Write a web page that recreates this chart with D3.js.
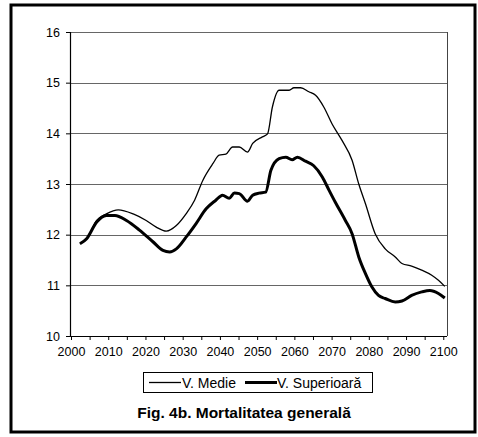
<!DOCTYPE html>
<html>
<head>
<meta charset="utf-8">
<script src="https://cdn.jsdelivr.net/npm/d3@7"></script>
<style>
  body { margin: 0; background: #fff; }
  svg { font-family: Arial, "Liberation Sans", sans-serif; }
</style>
</head>
<body>
<div id="chart"></div>
<script>
// V. Medie (thin line)
var yearsMedie = [2002.4, 2004.2, 2006.9, 2009.5, 2012.7, 2016.7, 2020.2, 2022.9, 2025.6, 2028.3,
    2030.9, 2033.2, 2035.4, 2038.1, 2039.8, 2041.6, 2043.4, 2045.2, 2047.4, 2048.8,
    2051.4, 2052.8, 2054.1, 2055.9, 2058.6, 2059.9, 2061.7, 2063.9, 2065.7, 2067.9,
    2070.1, 2072.8, 2075.5, 2077.3, 2079.1, 2081.7, 2084.4, 2087.1, 2088.9, 2091.5,
    2094.2, 2096.9, 2098.7, 2100.4];
var medie = [11.82, 11.92, 12.28, 12.41, 12.49, 12.41, 12.28, 12.15, 12.07, 12.18,
    12.41, 12.68, 13.07, 13.4, 13.57, 13.59, 13.73, 13.73, 13.63, 13.8,
    13.93, 13.99, 14.52, 14.85, 14.85, 14.9, 14.9, 14.82, 14.75, 14.52,
    14.19, 13.86, 13.47, 13.0, 12.61, 12.02, 11.72, 11.56, 11.43, 11.38,
    11.3, 11.2, 11.1, 10.98];

// V. Superioara (thick line)
var yearsSup = [2002.4, 2004.2, 2006.9, 2009.5, 2011.8, 2014.9, 2018.4, 2022, 2024.7, 2026.5,
    2028.3, 2030.9, 2033.6, 2036.3, 2038.9, 2040.7, 2042.5, 2043.9, 2045.2, 2047.4,
    2048.8, 2050.5, 2052.3, 2053.7, 2055.9, 2057.7, 2059.4, 2060.8, 2063, 2065.2,
    2067.5, 2069.3, 2071, 2073.7, 2075.5, 2077.3, 2079.1, 2080.8, 2082.6, 2084.4,
    2087.1, 2088.9, 2091.5, 2094.2, 2096.4, 2098.7, 2100.4];
var superioara = [11.82, 11.92, 12.25, 12.38, 12.38, 12.28, 12.09, 11.86, 11.69, 11.66,
    11.72, 11.95, 12.22, 12.51, 12.68, 12.78, 12.72, 12.82, 12.81, 12.66,
    12.78, 12.82, 12.84, 13.27, 13.5, 13.53, 13.48, 13.53, 13.45, 13.36,
    13.14, 12.88, 12.64, 12.28, 12.02, 11.56, 11.23, 10.97, 10.8, 10.74,
    10.67, 10.69, 10.8, 10.87, 10.9, 10.84, 10.75];

var xTicks = [2000, 2010, 2020, 2030, 2040, 2050, 2060, 2070, 2080, 2090, 2100];
var yTicks = [10, 11, 12, 13, 14, 15, 16];
var seriesNames = ["V. Medie", "V. Superioară"];
var caption = "Fig. 4b. Mortalitatea generală";

var svg = d3.select("#chart")
    .append("svg")
    .attr("width", 478)
    .attr("height", 437);

// outer frame
svg.append("rect")
    .attr("x", 11).attr("y", 5)
    .attr("width", 464).attr("height", 427)
    .style("fill", "none")
    .style("stroke", "#000")
    .style("stroke-width", 3);

var plot = { left: 71, right: 447, top: 32, bottom: 336 };

var x = d3.scaleLinear().domain([2000, 2101]).range([plot.left, plot.right]);
var y = d3.scaleLinear().domain([10, 16]).range([plot.bottom, plot.top]);

// gridlines
svg.append("g")
    .selectAll("line")
    .data(yTicks.slice(1))
    .enter().append("line")
    .attr("x1", plot.left).attr("x2", plot.right)
    .attr("y1", function (d) { return Math.round(y(d)) + 0.5; })
    .attr("y2", function (d) { return Math.round(y(d)) + 0.5; })
    .style("stroke", "#666")
    .style("stroke-width", 1);

// right border of plot area
svg.append("line")
    .attr("x1", plot.right + 0.5).attr("x2", plot.right + 0.5)
    .attr("y1", plot.top).attr("y2", plot.bottom)
    .style("stroke", "#444");

var yAxis = svg.append("g")
    .attr("transform", "translate(" + plot.left + ",0)")
    .call(d3.axisLeft(y).tickValues(yTicks).tickSize(5).tickPadding(6).tickFormat(d3.format("d")));

var minorTicks = d3.range(2000, 2101, 5);
var xAxis = svg.append("g")
    .attr("transform", "translate(0," + plot.bottom + ")")
    .call(d3.axisBottom(x).tickValues(minorTicks).tickSize(4).tickPadding(7)
        .tickFormat(function (d) { return xTicks.indexOf(d) >= 0 ? d : ""; }));

svg.selectAll(".domain").style("stroke", "#000").style("stroke-width", 1.2);
svg.selectAll(".tick line").style("stroke", "#000");
svg.selectAll(".tick text")
    .style("font-size", "12.5px")
    .style("fill", "#000")
    .style("font-family", "Arial, 'Liberation Sans', sans-serif");
// plain axis lines without outer ticks
xAxis.select(".domain").attr("d", "M" + plot.left + ",0.5H" + plot.right);
yAxis.select(".domain").attr("d", "M-0.5," + plot.top + "V" + plot.bottom);

var line = d3.line()
    .x(function (d) { return x(d[0]); })
    .y(function (d) { return y(d[1]); })
    .curve(d3.curveMonotoneX);

svg.append("path")
    .datum(yearsMedie.map(function (yr, i) { return [yr, medie[i]]; }))
    .attr("d", line)
    .style("fill", "none")
    .style("stroke", "#000")
    .style("stroke-width", 1.3);

svg.append("path")
    .datum(yearsSup.map(function (yr, i) { return [yr, superioara[i]]; }))
    .attr("d", line)
    .style("fill", "none")
    .style("stroke", "#000")
    .style("stroke-width", 3);

// legend
var legend = svg.append("g");
legend.append("rect")
    .attr("x", 143.5).attr("y", 372.5)
    .attr("width", 229).attr("height", 20)
    .style("fill", "#fff")
    .style("stroke", "#000")
    .style("stroke-width", 1);

legend.append("line")
    .attr("x1", 149).attr("x2", 181).attr("y1", 382.5).attr("y2", 382.5)
    .style("stroke", "#000").style("stroke-width", 1.3);
legend.append("text")
    .attr("x", 182).attr("y", 388)
    .style("font-size", "14px")
    .text(seriesNames[0]);

legend.append("line")
    .attr("x1", 245).attr("x2", 277).attr("y1", 382.5).attr("y2", 382.5)
    .style("stroke", "#000").style("stroke-width", 3);
legend.append("text")
    .attr("x", 277).attr("y", 388)
    .style("font-size", "14px")
    .text(seriesNames[1]);

svg.append("text")
    .attr("x", 244).attr("y", 418)
    .attr("text-anchor", "middle")
    .style("font-size", "15.5px")
    .style("font-weight", "bold")
    .text(caption);
</script>
</body>
</html>
